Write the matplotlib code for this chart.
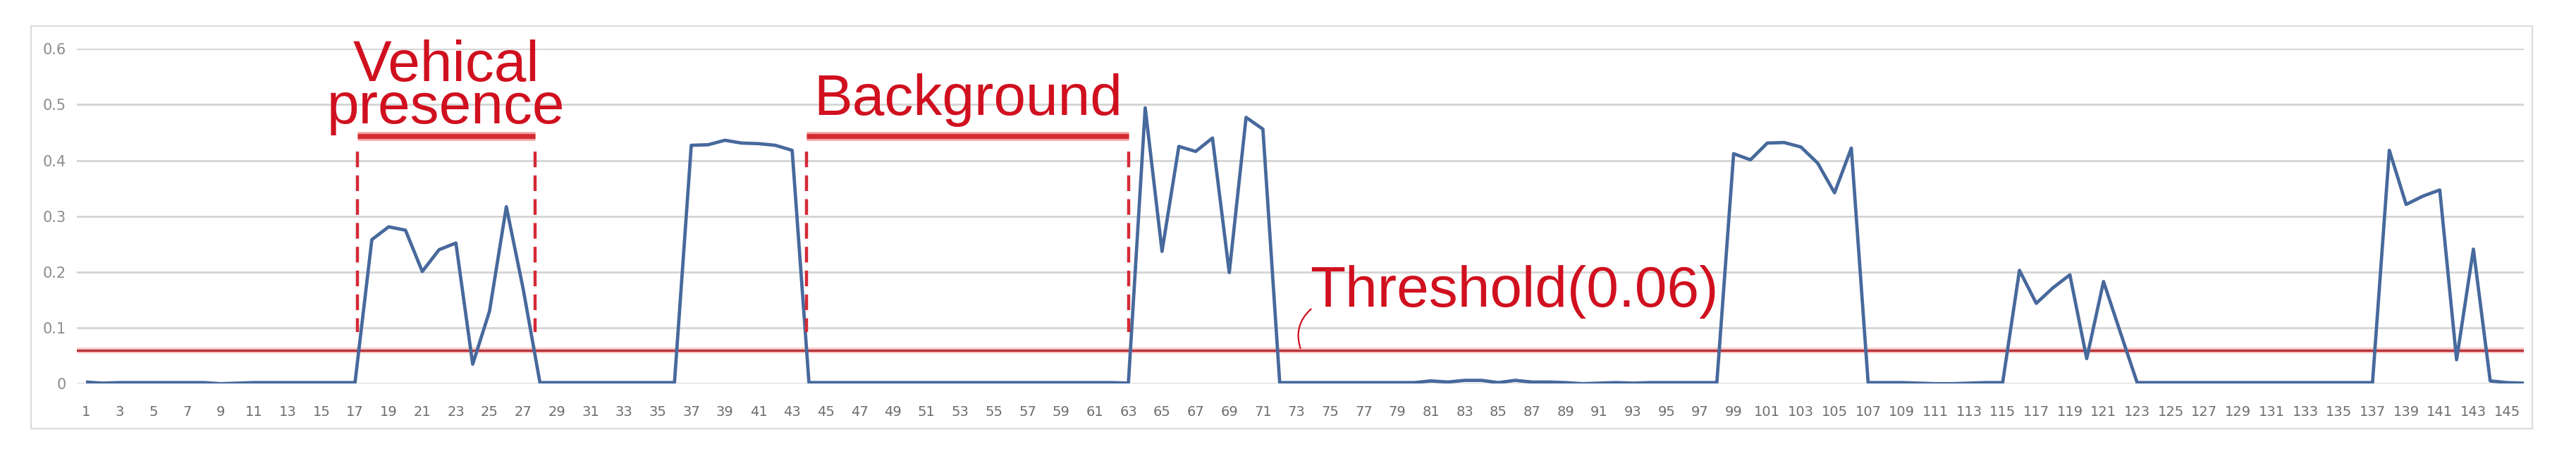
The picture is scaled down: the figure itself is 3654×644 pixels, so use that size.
import matplotlib
matplotlib.use("Agg")
import matplotlib.pyplot as plt
from matplotlib.patches import Rectangle

# ---------------- data ----------------
frame_index = list(range(1, 147))
score = [
    0.003, 0.001, 0.002, 0.002, 0.002, 0.002, 0.002, 0.002, 0.000, 0.001,
    0.002, 0.002, 0.002, 0.002, 0.002, 0.002, 0.002, 0.258, 0.281, 0.275,
    0.201, 0.240, 0.252, 0.035, 0.130, 0.317, 0.170, 0.002, 0.002, 0.002,
    0.002, 0.002, 0.002, 0.002, 0.002, 0.002, 0.427, 0.428, 0.436, 0.431,
    0.430, 0.427, 0.418, 0.002, 0.002, 0.002, 0.002, 0.002, 0.002, 0.002,
    0.002, 0.002, 0.002, 0.002, 0.002, 0.002, 0.002, 0.002, 0.002, 0.002,
    0.002, 0.002, 0.001, 0.494, 0.237, 0.425, 0.416, 0.440, 0.199, 0.477,
    0.456, 0.002, 0.002, 0.002, 0.002, 0.002, 0.002, 0.002, 0.002, 0.002,
    0.005, 0.003, 0.006, 0.006, 0.002, 0.006, 0.003, 0.003, 0.002, 0.000,
    0.001, 0.002, 0.001, 0.002, 0.002, 0.002, 0.002, 0.002, 0.412, 0.401,
    0.431, 0.432, 0.424, 0.395, 0.342, 0.422, 0.002, 0.002, 0.002, 0.001,
    0.000, 0.000, 0.001, 0.002, 0.002, 0.203, 0.144, 0.172, 0.195, 0.045,
    0.183, 0.092, 0.002, 0.002, 0.002, 0.002, 0.002, 0.002, 0.002, 0.002,
    0.002, 0.002, 0.002, 0.002, 0.002, 0.002, 0.002, 0.418, 0.321, 0.336,
    0.347, 0.043, 0.241, 0.005, 0.002, 0.001,
]
threshold = 0.06
threshold_label = "Threshold(0.06)"
vehicle_label = "Vehical\npresence"
background_label = "Background"
y_ticks = [0, 0.1, 0.2, 0.3, 0.4, 0.5, 0.6]
y_tick_labels = ["0", "0.1", "0.2", "0.3", "0.4", "0.5", "0.6"]
x_ticks = list(range(1, 146, 2))

# annotated regions (in frame-index units)
vehicle_span = (17.15, 27.7)
background_span = (43.87, 63.03)
bracket_y = 0.443
dash_top, dash_bottom = 0.416, 0.092

# ---------------- figure ----------------
W, H, DPI = 3654, 644, 100
fig = plt.figure(figsize=(W / DPI, H / DPI), dpi=DPI)
fig.patch.set_facecolor("white")

# chart-area frame
fig.patches.append(Rectangle((44 / W, 1 - 608 / H), (3592 - 44) / W, (608 - 37) / H,
                             transform=fig.transFigure, fill=False,
                             edgecolor="#dcdcdc", lw=1.6, zorder=0))

ax = fig.add_axes([108.9 / W, 1 - 544.3 / H, (3580 - 108.9) / W, (544.3 - 69.1) / H])
ax.set_xlim(0.45, 146)
ax.set_ylim(0, 0.6)
for s in ax.spines.values():
    s.set_visible(False)

ax.set_yticks(y_ticks)
ax.set_yticklabels(y_tick_labels)
ax.set_xticks(x_ticks)
ax.set_xticklabels([str(v) for v in x_ticks])
ax.tick_params(axis="both", length=0)
ax.tick_params(axis="x", pad=22, labelsize=14, labelcolor="#6e6e6e")
ax.tick_params(axis="y", pad=11, labelsize=15, labelcolor="#8c8c8c")
ax.grid(axis="y", color="#d4d4d4", lw=2.0, zorder=0)
ax.set_axisbelow(True)

red = "#d0101f"
FS = 59

# threshold line
ax.axhline(threshold, color="#f0a0a0", lw=6, zorder=2, alpha=0.5)
ax.axhline(threshold, color="#b8333a", lw=2.4, zorder=2)

# series
ax.plot(frame_index, score, color="#47699c", lw=3.4, zorder=3,
        solid_joinstyle="round", solid_capstyle="butt")

# brackets
for (x0, x1) in (vehicle_span, background_span):
    ax.plot([x0, x1], [bracket_y, bracket_y], color="#f2a0a0", lw=9,
            solid_capstyle="butt", zorder=4)
    ax.plot([x0, x1], [bracket_y, bracket_y], color="#d42d33", lw=5,
            solid_capstyle="butt", zorder=4)
    for x in (x0, x1):
        ax.plot([x, x], [dash_top, dash_bottom], color="#d42a36", lw=3.2,
                dashes=(5, 2.6), zorder=4)

# region labels
vx = (vehicle_span[0] + vehicle_span[1]) / 2
ax.text(vx, 0.466, vehicle_label, color=red, fontsize=FS, ha="center",
        multialignment="center", linespacing=0.74, va="baseline",
        family="Liberation Sans", clip_on=False, zorder=5)
bx = (background_span[0] + background_span[1]) / 2
ax.text(bx, 0.481, background_label, color=red, fontsize=FS, ha="center",
        va="baseline", family="Liberation Sans", clip_on=False, zorder=5)

# threshold callout
ax.annotate("", xy=(73.27, threshold), xytext=(73.95, 0.136),
            arrowprops=dict(arrowstyle="-", color=red, lw=1.6,
                            connectionstyle="arc3,rad=0.35"), zorder=5)
ax.text(73.8, 0.138, threshold_label, color=red, fontsize=FS, ha="left",
        va="baseline", family="Liberation Sans", zorder=5)

fig.savefig("out.png", dpi=DPI, facecolor="white")
